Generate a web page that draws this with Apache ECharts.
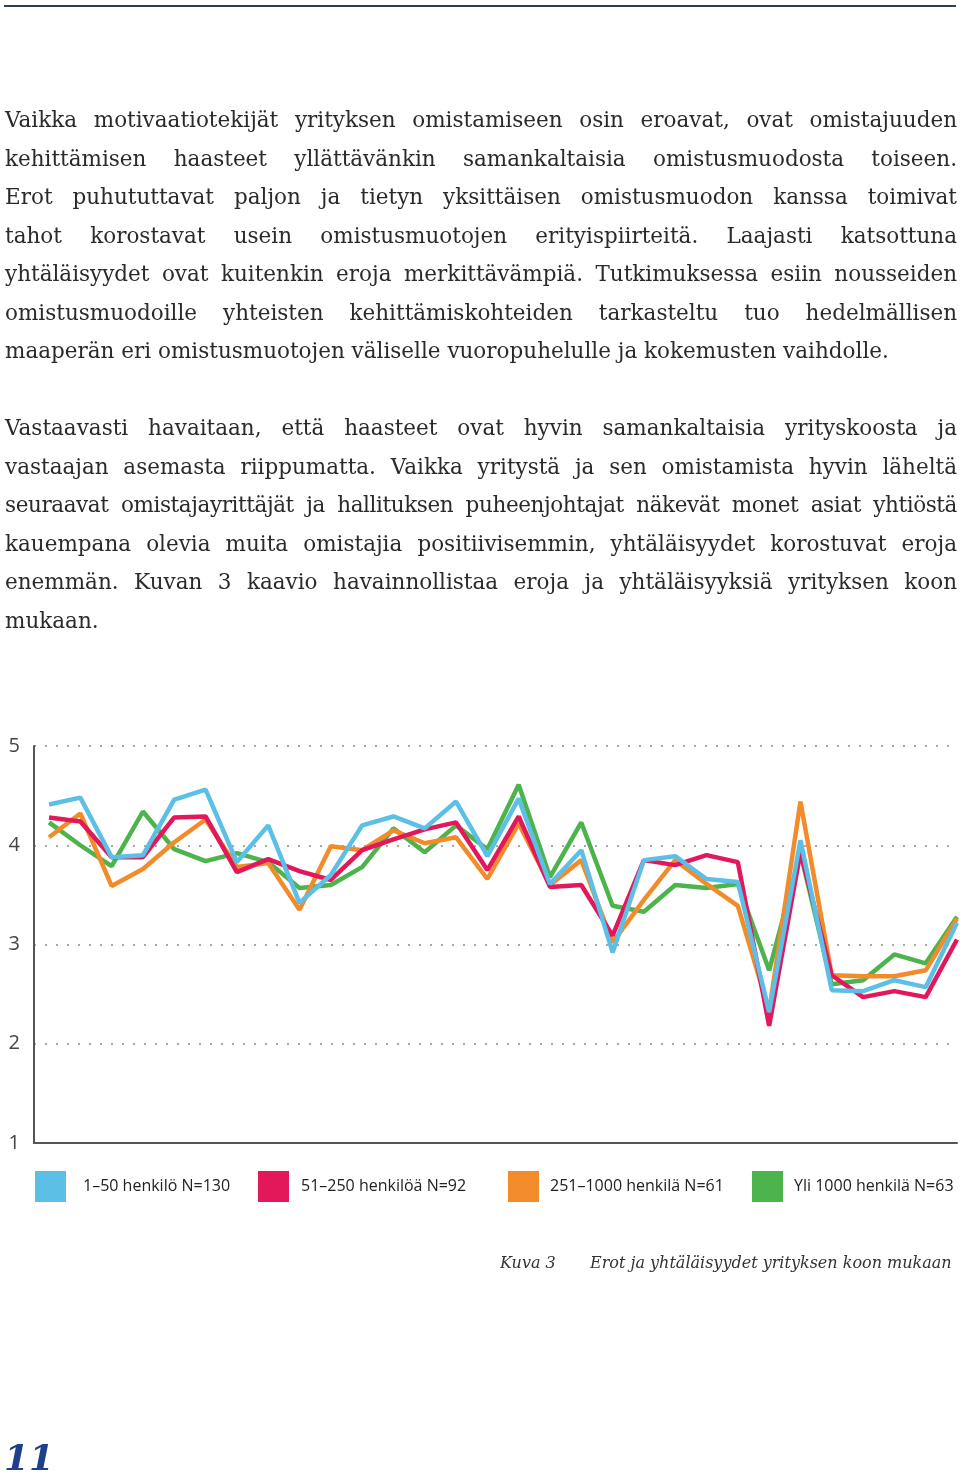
<!DOCTYPE html>
<html>
<head>
<meta charset="utf-8">
<script src="https://cdn.jsdelivr.net/npm/echarts@6/dist/echarts.min.js"></script>
<style>
  html, body { margin: 0; padding: 0; background: #fff; }
  body { width: 960px; height: 1476px; position: relative; overflow: hidden; }
  #chart { position: absolute; left: 0; top: 0; width: 960px; height: 1476px; }
  .rule { position: absolute; left: 4px; top: 5px; width: 952px; height: 2px; background: #2b3e52; }
  .txt { position: absolute; left: 5px; top: 101px; width: 952px; font-family: "DejaVu Serif", serif;
         font-size: 21.5px; line-height: 38.5px; color: #2a2a2a; }
  .txt div { text-align: justify; text-align-last: justify; height: 38.5px; overflow: visible; }
  .txt div.last { text-align-last: left; }
  .txt div.tight { letter-spacing: -0.4px; }
  .txt .gap { height: 38.5px; }
  .cap { position: absolute; top: 1253px; font-family: "DejaVu Serif", serif; font-style: italic;
         font-size: 16px; color: #333; white-space: nowrap; }
  .pg { position: absolute; left: 4px; top: 1436px; font-family: "DejaVu Serif", serif; font-style: italic;
        font-weight: bold; font-size: 36px; color: #1d3f8c; }
</style>
</head>
<body>
<div id="chart"></div>
<div class="rule"></div>
<div class="txt">
<div>Vaikka motivaatiotekijät yrityksen omistamiseen osin eroavat, ovat omistajuuden</div>
<div>kehittämisen haasteet yllättävänkin samankaltaisia omistusmuodosta toiseen.</div>
<div>Erot puhututtavat paljon ja tietyn yksittäisen omistusmuodon kanssa toimivat</div>
<div>tahot korostavat usein omistusmuotojen erityispiirteitä. Laajasti katsottuna</div>
<div>yhtäläisyydet ovat kuitenkin eroja merkittävämpiä. Tutkimuksessa esiin nousseiden</div>
<div>omistusmuodoille yhteisten kehittämiskohteiden tarkasteltu tuo hedelmällisen</div>
<div class="last">maaperän eri omistusmuotojen väliselle vuoropuhelulle ja kokemusten vaihdolle.</div>
<div class="gap"></div>
<div>Vastaavasti havaitaan, että haasteet ovat hyvin samankaltaisia yrityskoosta ja</div>
<div>vastaajan asemasta riippumatta. Vaikka yritystä ja sen omistamista hyvin läheltä</div>
<div class="tight">seuraavat omistajayrittäjät ja hallituksen puheenjohtajat näkevät monet asiat yhtiöstä</div>
<div>kauempana olevia muita omistajia positiivisemmin, yhtäläisyydet korostuvat eroja</div>
<div>enemmän. Kuvan 3 kaavio havainnollistaa eroja ja yhtäläisyyksiä yrityksen koon</div>
<div class="last">mukaan.</div>
</div>
<div class="cap" style="left:500px">Kuva 3</div>
<div class="cap" style="left:590px">Erot ja yhtäläisyydet yrityksen koon mukaan</div>
<div class="pg">11</div>
<script>
// sarjojen nimet
const seriesNames = ["1–50 henkilö N=130", "51–250 henkilöä N=92", "251–1000 henkilä N=61", "Yli 1000 henkilä N=63"];
const colors = ["#5bbfe6", "#e2185b", "#f28b2a", "#4db34c"];

const small = [4.41, 4.48, 3.88, 3.90, 4.46, 4.56, 3.83, 4.20, 3.42, 3.70, 4.20, 4.29, 4.17, 4.44, 3.89, 4.47, 3.61, 3.95, 2.92, 3.85, 3.89, 3.66, 3.63, 2.32, 4.05, 2.54, 2.53, 2.64, 2.57, 3.22];
const medium = [4.28, 4.24, 3.88, 3.88, 4.28, 4.29, 3.73, 3.86, 3.74, 3.65, 3.95, 4.06, 4.16, 4.23, 3.75, 4.29, 3.58, 3.60, 3.09, 3.85, 3.80, 3.90, 3.83, 2.18, 3.93, 2.69, 2.47, 2.53, 2.47, 3.05];
const large = [4.08, 4.32, 3.59, 3.76, 4.03, 4.26, 3.78, 3.82, 3.35, 3.99, 3.95, 4.15, 4.02, 4.08, 3.66, 4.22, 3.60, 3.85, 3.02, 3.45, 3.85, 3.61, 3.39, 2.33, 4.44, 2.69, 2.68, 2.68, 2.74, 3.26];
const huge = [4.23, 4.00, 3.79, 4.34, 3.96, 3.84, 3.92, 3.83, 3.57, 3.60, 3.78, 4.17, 3.93, 4.20, 3.96, 4.61, 3.68, 4.23, 3.39, 3.33, 3.60, 3.57, 3.61, 2.74, 3.92, 2.60, 2.64, 2.90, 2.81, 3.28];

const yTicks = [1, 2, 3, 4, 5];
const allValues = [small, medium, large, huge];

const myChart = echarts.init(document.getElementById("chart"));

// legendit erikseen, jotta sijainnit osuvat
const legendLeft = [35, 258, 508, 752];
const legendPad = [12, 7, 6, 6];
const legends = seriesNames.map((n, i) => ({
  data: [n],
  left: legendLeft[i],
  top: 1171,
  padding: 0,
  icon: "rect",
  itemWidth: 31,
  itemHeight: 31,
  selectedMode: false,
  textStyle: { fontFamily: "Open Sans", fontSize: 16, color: "#222", padding: [0, 0, 0, legendPad[i]] },
}));

// piirtojärjestys: vihreä alimmaisena, sininen päällimmäisenä
const order = [3, 2, 1, 0];
const series = order.map((i) => ({
  name: seriesNames[i],
  type: "line",
  data: allValues[i].map((v, k) => [k, v]),
  symbol: "none",
  lineStyle: { width: 4.5, color: colors[i] },
  itemStyle: { color: colors[i] },
  z: 2,
}));

myChart.setOption({
  animation: false,
  legend: legends,
  grid: { left: 34, right: 3, top: 746, bottom: 333 },
  xAxis: {
    type: "value",
    min: -0.48,
    max: 29,
    axisLine: { show: true, onZero: false, lineStyle: { color: "#555", width: 2 } },
    axisTick: { show: false },
    axisLabel: { show: false },
    splitLine: { show: false },
  },
  yAxis: {
    type: "value",
    min: yTicks[0],
    max: yTicks[yTicks.length - 1],
    interval: 1,
    axisLine: { show: true, onZero: false, lineStyle: { color: "#555", width: 2 } },
    axisTick: { show: false },
    axisLabel: { fontFamily: "Open Sans", fontSize: 20, color: "#444", margin: 14 },
    splitLine: { show: true, lineStyle: { color: "#a8a8a8", width: 2, type: [2, 9] } },
  },
  series: series,
});
</script>
</body>
</html>
